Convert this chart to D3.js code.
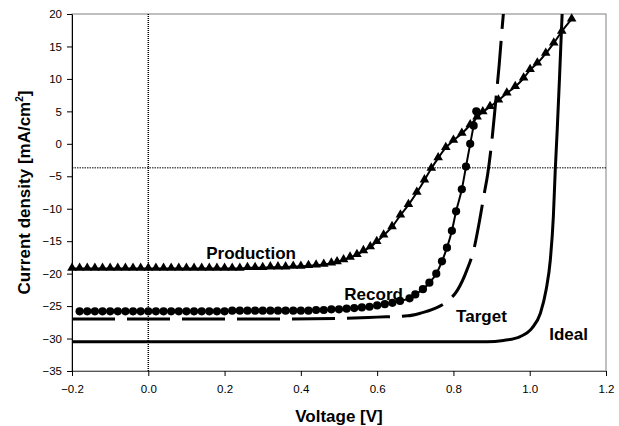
<!DOCTYPE html>
<html>
<head>
<meta charset="utf-8">
<script src="https://cdn.jsdelivr.net/npm/d3@7"></script>
<style>
  body { margin: 0; background: #fff; }
  text { font-family: "Liberation Sans", Arial, sans-serif; }
</style>
</head>
<body>
<svg id="chart" width="619" height="426"></svg>
<script>
// tick values
var xTicks = [-0.2, 0, 0.2, 0.4, 0.6, 0.8, 1.0, 1.2];
var yTicks = [20, 15, 10, 5, 0, -5, -10, -15, -20, -25, -30, -35];

// Production (triangles)
var productionV = [-0.2,-0.18,-0.16,-0.14,-0.12,-0.1,-0.08,-0.06,-0.04,-0.02,0,0.02,0.04,0.06,0.08,0.1,0.12,0.14,0.16,0.18,0.2,
  0.22,0.24,0.26,0.28,0.3,0.32,0.34,0.36,0.38,0.4,0.42,0.44,0.46,0.48,
  0.495,0.512,0.529,0.547,0.564,0.582,0.599,0.617,0.639,0.661,0.682,0.704,0.724,0.742,0.76,0.78,0.8,0.822,0.844,0.862,0.877,0.896,0.918,0.94,0.962,0.984,1.001,1.02,1.042,1.063,1.084,1.11];
var productionJ = [-19.2,-19.2,-19.2,-19.2,-19.2,-19.2,-19.2,-19.2,-19.2,-19.2,-19.2,-19.2,-19.2,-19.2,-19.2,-19.2,-19.2,-19.2,-19.2,-19.2,-19.2,
  -19.2,-19.2,-19.1,-19.1,-19.1,-19.0,-19.0,-19.0,-18.9,-18.9,-18.8,-18.7,-18.6,-18.4,
  -18.2,-17.9,-17.5,-17.1,-16.5,-15.9,-15.1,-14.1,-12.8,-11.0,-9.4,-7.5,-5.6,-3.8,-2.2,-0.6,0.5,1.6,2.9,4.1,4.9,5.7,6.7,7.8,8.8,10.1,11.4,12.4,13.9,15.5,17.3,19.2];

// Record (circles)
var recordV = [-0.18,-0.16,-0.14,-0.12,-0.1,-0.08,-0.06,-0.04,-0.02,0,0.02,0.04,0.06,0.08,0.1,0.12,0.14,0.16,0.18,0.2,
  0.22,0.24,0.26,0.28,0.3,0.32,0.34,0.36,0.38,0.4,0.42,0.44,0.46,0.48,0.5,0.52,0.54,0.56,0.58,0.6,0.62,0.64,0.66,
  0.685,0.7,0.72,0.737,0.755,0.77,0.783,0.796,0.807,0.822,0.833,0.844,0.853,0.86];
var recordJ = [-25.8,-25.8,-25.8,-25.8,-25.8,-25.8,-25.8,-25.8,-25.8,-25.8,-25.8,-25.8,-25.8,-25.8,-25.8,-25.8,-25.8,-25.8,-25.8,-25.8,
  -25.7,-25.7,-25.7,-25.7,-25.7,-25.7,-25.7,-25.7,-25.7,-25.7,-25.7,-25.6,-25.6,-25.5,-25.5,-25.4,-25.3,-25.2,-25.1,-24.9,-24.7,-24.5,-24.2,
  -23.8,-23.2,-22.4,-21.4,-20.0,-18.1,-16.0,-13.4,-10.4,-7.0,-3.5,0.0,2.8,5.0];

// Target (dashed)
var targetV = [-0.2,0.3,0.5,0.6,0.68,0.713,0.75,0.783,0.811,0.835,0.855,0.868,0.881,0.89,0.901,0.91,0.92,0.931,0.935];
var targetJ = [-27.0,-27.0,-26.9,-26.7,-26.5,-26.1,-25.4,-24.3,-22.5,-19.5,-15.9,-12.0,-7.6,-4.6,0.6,6.0,12.2,20.1,22.5];

// Ideal (solid)
var idealV = [-0.2,0.85,0.888,0.931,0.975,1.006,1.028,1.043,1.054,1.062,1.067,1.072,1.078,1.085,1.088];
var idealJ = [-30.5,-30.5,-30.5,-30.3,-29.7,-28.4,-26.1,-22.5,-17.9,-11.2,-4.0,2.0,10.0,20.0,24.0];

// curve labels
var labelText = ["Production", "Record", "Target", "Ideal"];
var labelV = [0.152, 0.514, 0.807, 1.051];
var labelJ = [-17.75, -24.07, -27.38, -30.23];

// dotted reference lines
var refV = 0;
var refJ = -3.7;

var svg = d3.select("#chart");
var margin = {top: 14, right: 13, bottom: 55, left: 72};
var width = 619 - margin.left - margin.right,
    height = 426 - margin.top - margin.bottom;

var x = d3.scaleLinear().domain([-0.2, 1.2]).range([0, width]);
var y = d3.scaleLinear().domain([-35, 20]).range([height, 0]);

var g = svg.append("g").attr("transform", "translate(" + margin.left + "," + margin.top + ")");

g.append("clipPath").attr("id", "clip")
  .append("rect").attr("width", width).attr("height", height);

// plot border (top/right gray)
g.append("rect")
  .attr("width", width).attr("height", height)
  .attr("fill", "none").attr("stroke", "#808080").attr("stroke-width", 1);

// dotted lines
g.append("line")
  .attr("x1", x(refV)).attr("x2", x(refV)).attr("y1", 0).attr("y2", height)
  .attr("stroke", "#000").attr("stroke-width", 1.5).attr("stroke-dasharray", "1,1");
g.append("line")
  .attr("x1", 0).attr("x2", width).attr("y1", y(refJ)).attr("y2", y(refJ))
  .attr("stroke", "#000").attr("stroke-width", 1).attr("stroke-dasharray", "1.5,1");

function pts(vs, js) {
  return vs.map(function(v, i) { return [v, js[i]]; });
}
var line = d3.line()
  .x(function(d) { return x(d[0]); })
  .y(function(d) { return y(d[1]); })
  .curve(d3.curveMonotoneX);

var curves = g.append("g").attr("clip-path", "url(#clip)");

curves.append("path").datum(pts(idealV, idealJ))
  .attr("d", line).attr("fill", "none").attr("stroke", "#000").attr("stroke-width", 3);
curves.append("path").datum(pts(targetV, targetJ))
  .attr("d", line).attr("fill", "none").attr("stroke", "#000").attr("stroke-width", 3)
  .attr("stroke-dasharray", "43,12");
curves.append("path").datum(pts(recordV, recordJ))
  .attr("d", line).attr("fill", "none").attr("stroke", "#000").attr("stroke-width", 2);
curves.append("path").datum(pts(productionV, productionJ))
  .attr("d", line).attr("fill", "none").attr("stroke", "#000").attr("stroke-width", 2);

g.selectAll(".rec").data(pts(recordV, recordJ))
  .enter().append("circle")
  .attr("class", "rec")
  .attr("cx", function(d) { return x(d[0]); })
  .attr("cy", function(d) { return y(d[1]); })
  .attr("r", 4.1)
  .attr("fill", "#000");

var tri = d3.symbol().type(d3.symbolTriangle).size(40);
g.selectAll(".prod").data(pts(productionV, productionJ))
  .enter().append("path")
  .attr("class", "prod")
  .attr("transform", function(d) { return "translate(" + x(d[0]) + "," + (y(d[1]) - 0.5) + ")"; })
  .attr("d", tri)
  .attr("fill", "#000");

// labels
g.selectAll(".lbl").data(labelText)
  .enter().append("text")
  .attr("class", "lbl")
  .attr("x", function(d, i) { return x(labelV[i]); })
  .attr("y", function(d, i) { return y(labelJ[i]); })
  .attr("font-size", "17px").attr("font-weight", "bold")
  .text(function(d) { return d; });

// axes
var xAxis = g.append("g")
  .attr("transform", "translate(0," + height + ")")
  .call(d3.axisBottom(x).tickValues(xTicks).tickFormat(d3.format(".1f")).tickSize(5).tickPadding(9).tickSizeOuter(0));
xAxis.select(".domain").attr("stroke", "#555");
xAxis.selectAll("text").attr("font-size", "11.5px").attr("fill", "#000").style("font-family", "Liberation Sans, Arial, sans-serif");

var yAxis = g.append("g")
  .call(d3.axisLeft(y).tickValues(yTicks).tickSize(5).tickPadding(5).tickSizeOuter(0));
yAxis.select(".domain").attr("stroke", "#000");
yAxis.selectAll("text").attr("font-size", "11.5px").attr("fill", "#000").style("font-family", "Liberation Sans, Arial, sans-serif");

// titles
svg.append("text")
  .attr("x", margin.left + width / 2).attr("y", 422)
  .attr("text-anchor", "middle").attr("font-size", "17px").attr("font-weight", "bold")
  .text("Voltage [V]");

var yt = svg.append("text")
  .attr("transform", "translate(29.5," + (margin.top + height / 2) + ") rotate(-90)")
  .attr("text-anchor", "middle").attr("font-size", "17px").attr("font-weight", "bold");
yt.append("tspan").text("Current density [mA/cm");
yt.append("tspan").attr("font-size", "10px").attr("dy", "-7").text("2");
yt.append("tspan").attr("dy", "7").text("]");
</script>
</body>
</html>
